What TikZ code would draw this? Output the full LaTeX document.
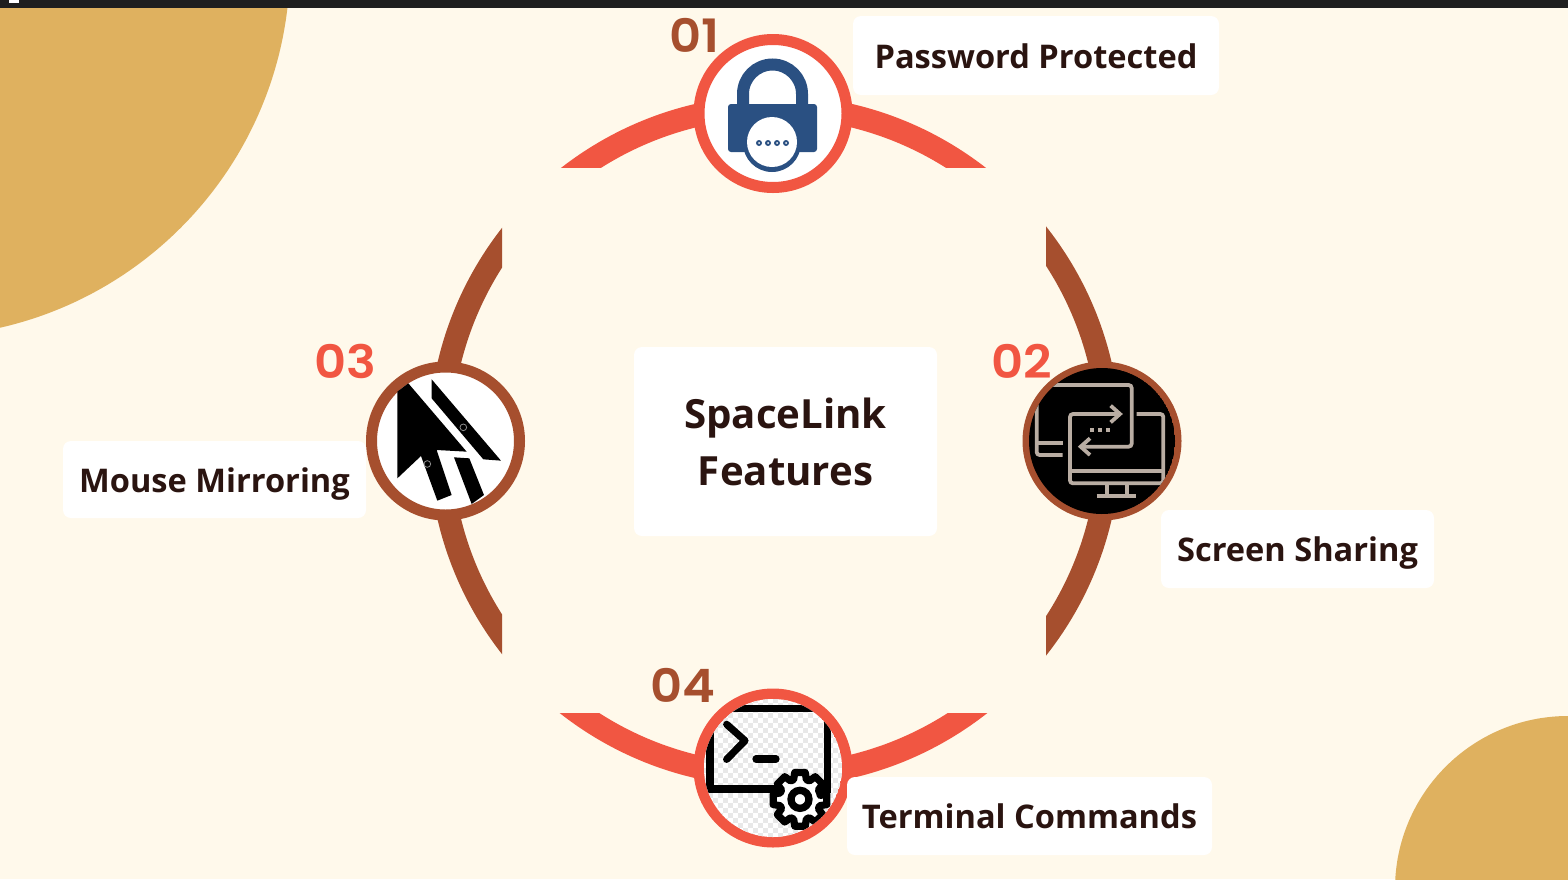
\documentclass[tikz,border=0pt]{standalone}
\usepackage{fontspec}
\setmainfont{Open Sans}
\newfontfamily\numfont[FakeStretch=1.08]{Poppins SemiBold}
\definecolor{paper}{HTML}{FFF9EB}
\definecolor{sand}{HTML}{DFB15F}
\definecolor{ringred}{HTML}{F15642}
\definecolor{ringbrown}{HTML}{A64F2E}
\definecolor{inkdark}{HTML}{2A1410}
\definecolor{lockblue}{HTML}{2A5082}
\definecolor{screengrey}{HTML}{B9ADA3}
\tikzset{
x=1pt, y=-1pt, % one unit is one pixel of the reference
badge/.style={circle, line width=11pt, minimum size=148pt, inner sep=0pt, fill=white}, % the four round icons
labelbox/.style={fill=white, rounded corners=8pt, inner sep=0pt, text=inkdark, font=\fontsize{32.6}{40}\selectfont\bfseries, align=center, text height=32pt, text depth=7pt}, % white label cards
numlabel/.style={font=\fontsize{46}{50}\selectfont\numfont, inner sep=0pt, anchor=base}, % the 01..04 numbers
}
\tikzset{
  screenline/.style={draw=screengrey, line width=3.8pt, rounded corners=3pt},
  termline/.style={draw=black, line width=7.2pt, line cap=round}
}
\begin{document}
\begin{tikzpicture}
      \useasboundingbox (0,0) rectangle (1568,879);
      \fill[paper] (0,0) rectangle (1568,879);
      \begin{scope}
        \clip (0,0) rectangle (1568,879);
        \fill[sand] (-83,-36) circle (373);
        \fill[sand] (1568,889) circle (173);
      \end{scope}
      \fill[black!88] (0,0) rectangle (1568,8);
      \fill[white] (9,0) rectangle (19,3);

      % the four arcs of the ring
      \foreach \xa/\ya/\xb/\yb/\ringcol/\ringx in {500/20/1050/167/ringred/773.5, 500/713/1050/870/ringred/773.5, 1046/200/1200/680/ringbrown/774.6, 380/200/502/680/ringbrown/774.6}{
        \begin{scope}
          \clip (\xa,\ya) rectangle (\xb,\yb);
          \draw[\ringcol, line width=23pt] (\ringx,441) circle (334.5);
        \end{scope}
      }

      \node[badge, draw=ringred] (lockbadge) at (773,113.5) {};
      \node[badge, draw=ringbrown] (screenbadge) at (1102,441) {};
      \node[badge, draw=ringbrown] (mousebadge) at (445.5,441) {};
      \node[badge, draw=ringred] (termbadge) at (773,768) {};

      % lock
      \draw[lockblue, line width=12pt] (743,106) -- (743,94) arc (180:360:29.5) -- (802,106);
      \fill[lockblue, rounded corners=3pt] (728,104) rectangle (817,152);
      \fill[lockblue] (772,143) circle (29);
      \fill[white] (772,142) circle (25);
      \foreach \dotx in {759,768,777,786}{
        \fill[lockblue] (\dotx,143) circle (3);
        \fill[white] (\dotx,143) circle (1);
      }

      % two screens
      \begin{scope}
        \clip (screenbadge.center) circle (73);
        \fill[black] (screenbadge.center) circle (73);
        \begin{scope}[shift={(990,340)}, x=0.3333pt, y=-0.3333pt]
          \draw[screenline] (140,190) -- (140,345) -- (218,345);
          \draw[screenline] (140,308) -- (218,308);
          \draw[screenline] (150,135) -- (425,135) -- (425,320) -- (275,320);
          \draw[screenline, rounded corners=0pt] (300,295) -- (272,320) -- (300,345);
          \draw[screenline] (390,222) -- (240,222) -- (240,430) -- (520,430) -- (520,222) -- (440,222);
          \draw[screenline, rounded corners=0pt] (362,197) -- (390,222) -- (362,247);
          \draw[screenline] (240,393) -- (520,393);
          \draw[screenline] (350,432) -- (350,467);
          \draw[screenline] (410,432) -- (410,467);
          \draw[screenline] (320,467) -- (438,467);
          \foreach \dotx in {305,330,355}{
            \fill[screengrey] (\dotx-6,265) rectangle (\dotx+6,275);
          }
        \end{scope}
      \end{scope}

      % mouse pointers
      \begin{scope}[shift={(340,340)}, x=0.3333pt, y=-0.3333pt]
        \fill[black] (172,155) -- (205,130) -- (380,335) -- (290,330) -- (335,465) -- (292,482) -- (243,348) -- (172,415) -- cycle;
        \fill[black] (275,118) -- (483,362) -- (430,358) -- (275,175) -- cycle;
        \fill[black] (342,352) -- (388,355) -- (432,465) -- (395,492) -- cycle;
        \draw[black!45, line width=0.8pt] (262,372) circle (10);
        \draw[black!45, line width=0.8pt] (370,262) circle (10);
      \end{scope}

      % terminal
      \begin{scope}
        \clip (termbadge.center) circle (69);
        \fill[white] (termbadge.center) circle (69);
        \foreach \cellx in {0,...,27}{
          \foreach \celly in {0,...,27}{
            \pgfmathparse{int(mod(\cellx+\celly,2))}
            \ifnum\pgfmathresult=0
              \fill[black!9] (703+\cellx*5,698+\celly*5) rectangle +(5,5);
            \fi
          }
        }
        \begin{scope}[shift={(670,670)}, x=0.3333pt, y=-0.3333pt]
          \draw[black, line width=7.5pt] (120,115) -- (472,115) -- (472,357) -- (120,357) -- cycle;
          \draw[termline, line join=round] (170,163) -- (225,212) -- (170,268);
          \draw[termline] (258,267) -- (318,267);
          \draw[black, fill=white, line width=7.2pt, line join=round, shift={(390,388)}]
            (-11:62) \foreach \toothang in {0,45,...,315}{
              -- ({\toothang-11}:82) -- ({\toothang+11}:82) -- ({\toothang+18}:62) -- ({\toothang+27}:62)
            } -- cycle;
          \draw[black, line width=7.3pt] (390,388) circle (27);
        \end{scope}
      \end{scope}

      % labels
      \node[labelbox, minimum width=366pt, minimum height=79pt] (passlabel) at (1036,55.5) {Password Protected};
      \node[labelbox, minimum width=273pt, minimum height=78pt] (sharelabel) at (1297.5,549) {Screen Sharing};
      \node[labelbox, minimum width=303pt, minimum height=77pt] (mouselabel) at (214.5,479.5) {Mouse Mirroring};
      \node[labelbox, minimum width=365pt, minimum height=78pt] (termlabel) at (1029.5,816) {Terminal Commands};
      \node[labelbox, minimum width=303pt, minimum height=189pt, text height=, text depth=, font=\fontsize{40.2}{57}\selectfont\bfseries] (titlelabel) at (785.5,441.5) {SpaceLink\\Features};

      \node[numlabel, text=ringbrown] (numone) at (694.5,52) {01};
      \node[numlabel, text=ringred] (numtwo) at (1022,378) {02};
      \node[numlabel, text=ringred] (numthree) at (345,378) {03};
      \node[numlabel, text=ringbrown] (numfour) at (682.5,702) {04};
    \end{tikzpicture}
\end{document}
